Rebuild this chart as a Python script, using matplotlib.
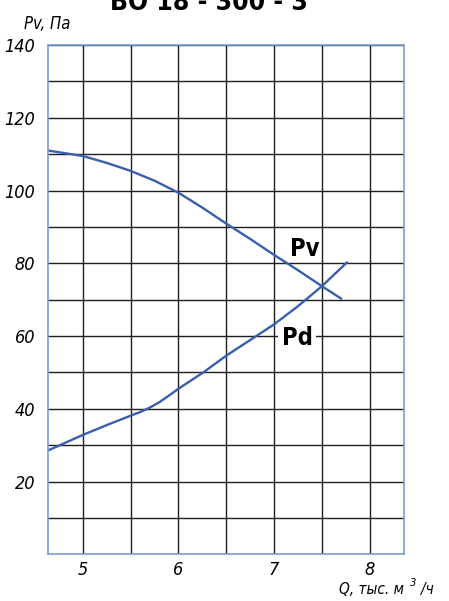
import matplotlib
matplotlib.use("Agg")
import matplotlib.pyplot as plt

# Data
q_pv = [4.634, 5.0, 5.25, 5.5, 5.75, 6.0, 6.25, 6.5, 6.75, 7.0, 7.25, 7.5, 7.7]
pv = [111.0, 109.5, 107.6, 105.4, 102.7, 99.4, 95.3, 90.9, 86.7, 82.3, 78.1, 73.7, 70.3]
q_pd = [4.634, 5.0, 5.25, 5.5, 5.6, 5.7, 5.8, 5.9, 6.0, 6.26, 6.5, 6.75, 7.0, 7.25, 7.5, 7.76]
pd = [28.5, 32.8, 35.5, 38.1, 39.1, 40.3, 41.8, 43.6, 45.5, 50.0, 54.6, 58.9, 63.2, 68.2, 73.7, 80.2]
x_ticks = [5, 6, 7, 8]
y_ticks = [20, 40, 60, 80, 100, 120, 140]
title = "ВО 18 - 300 - 3"

W, H = 449, 601
fam = ["DejaVu Sans", "Noto Sans"]
thin = dict(family=fam, style="italic", stretch="condensed")
bold = dict(family=fam, weight="bold", stretch="condensed")


def fx(px):
    return px / W


def fy(py):
    return 1 - py / H


fig = plt.figure(figsize=(W / 100, H / 100), dpi=100)
ax = fig.add_axes([fx(47.7), fy(554.3), fx(404) - fx(47.7), fy(45) - fy(554.3)])
ax.set_xlim(4.634, 8.358)
ax.set_ylim(0, 140)

# grid every 0.5 / 10, labels only at listed ticks
xg = [4.5 + 0.5 * i for i in range(1, 8)]
ax.set_xticks(xg)
ax.set_xticklabels([str(int(v)) if v in x_ticks else "" for v in xg])
yg = list(range(10, 150, 10))
ax.set_yticks(yg)
ax.set_yticklabels([str(v) if v in y_ticks else "" for v in yg])
ax.grid(True, color="#1e1e1e", linewidth=1.0)
ax.tick_params(length=0)
ax.tick_params(axis="y", pad=9)
ax.tick_params(axis="x", pad=5)
for lbl in ax.get_xticklabels() + ax.get_yticklabels():
    lbl.set(fontsize=13, **thin)
for s in ax.spines.values():
    s.set_color("#7f9bd2")
    s.set_linewidth(1.2)
    s.set_zorder(5)

line_col = "#3a5eae"
ax.plot(q_pv, pv, color=line_col, linewidth=1.7, zorder=3)
ax.plot(q_pd, pd, color=line_col, linewidth=1.7, zorder=3)

fig.text(fx(290), fy(256), "Pv", ha="left", va="baseline", fontsize=17, zorder=6, **bold)
fig.text(fx(282), fy(345), "Pd", ha="left", va="baseline", fontsize=17, zorder=6,
         bbox=dict(facecolor="white", edgecolor="none", pad=2.5), **bold)

fig.text(fx(24), fy(29), "Pv, Па", ha="left", va="baseline", fontsize=12, **thin)
fig.text(fx(339), fy(594), "Q, тыс. м", ha="left", va="baseline", fontsize=11, **thin)
fig.text(fx(410), fy(586.5), "3", ha="left", va="baseline", fontsize=8, **thin)
fig.text(fx(421), fy(594), "/ч", ha="left", va="baseline", fontsize=11, **thin)

fig.text(fx(208.5), fy(10), title, ha="center", va="baseline", fontsize=19, **bold)

fig.savefig("out.png", dpi=100)
